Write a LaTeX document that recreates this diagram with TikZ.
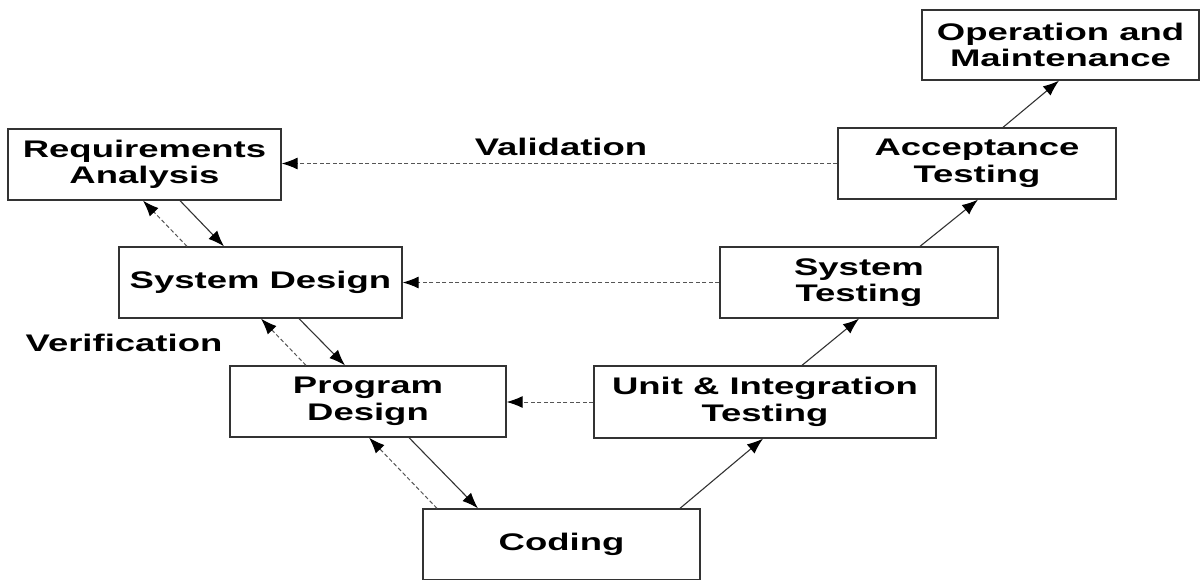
\documentclass[tikz,border=0pt]{standalone}
\usepackage{fontspec}
\setmainfont{Liberation Sans}[FakeStretch=1.52]
\usetikzlibrary{arrows.meta}
\definecolor{edgegray}{HTML}{333333}
\definecolor{dashgray}{HTML}{555555}
\begin{document}
\begin{tikzpicture}[x=1pt,y=-1pt,
  box/.style={draw=edgegray,line width=1.3pt,fill=white,align=center,inner sep=0pt,
    font=\fontsize{24}{26.5}\selectfont\bfseries},
  lbl/.style={font=\fontsize{24}{26.5}\selectfont\bfseries,inner sep=0pt},
  fwd/.style={draw=edgegray,line width=1.1pt,-{Latex[length=16pt,width=12pt,color=black]}},
  back/.style={draw=dashgray,line width=1pt,dash pattern=on 4pt off 2.5pt,-{Latex[length=16pt,width=12pt,color=black]}}]
\useasboundingbox (0,0) rectangle (1203,579);
\node[box,minimum width=273pt,minimum height=71pt] (req) at (144.5,164.5) {Requirements\\Analysis};
\node[box,minimum width=283pt,minimum height=71pt] (sd) at (260.5,282.5) {System Design};
\node[box,minimum width=276pt,minimum height=71pt] (pd) at (368,401.5) {Program\\Design};
\node[box,minimum width=277pt,minimum height=71pt] (cod) at (561.5,544.5) {Coding};
\node[box,minimum width=342pt,minimum height=72pt] (ui) at (765,402) {Unit \& Integration\\Testing};
\node[box,minimum width=278pt,minimum height=71pt] (st) at (859,282.5) {System\\Testing};
\node[box,minimum width=278pt,minimum height=71pt] (at) at (977,163.5) {Acceptance\\Testing};
\node[box,minimum width=277pt,minimum height=70pt] (om) at (1060.5,45) {Operation and\\Maintenance};
\node[lbl] (val) at (561,147) {Validation};
\node[lbl] (ver) at (124,343) {Verification};
% forward (solid)
\draw[fwd] ([xshift=35.5pt]req.south) -- ([xshift=-36.5pt]sd.north);
\draw[fwd] ([xshift=38.5pt]sd.south) -- ([xshift=-23pt]pd.north);
\draw[fwd] ([xshift=41pt]pd.south) -- ([xshift=-83.5pt]cod.north);
\draw[fwd] ([xshift=118.5pt]cod.north) -- ([xshift=-2pt]ui.south);
\draw[fwd] ([xshift=37pt]ui.north) -- (st.south);
\draw[fwd] ([xshift=61pt]st.north) -- ([xshift=1pt]at.south);
\draw[fwd] ([xshift=26pt]at.north) -- ([xshift=-1.5pt]om.south);
% backward (dashed)
\draw[back] ([xshift=-73.5pt]sd.north) -- ([xshift=-1.5pt]req.south);
\draw[back] ([xshift=-62pt]pd.north) -- ([xshift=0.5pt]sd.south);
\draw[back] ([xshift=-124.5pt]cod.north) -- ([xshift=1pt]pd.south);
\draw[back] (at.west) -- (at.west -| req.east);
\draw[back] (st.west) -- (st.west -| sd.east);
\draw[back] (ui.west) -- (ui.west -| pd.east);
\end{tikzpicture}
\end{document}
